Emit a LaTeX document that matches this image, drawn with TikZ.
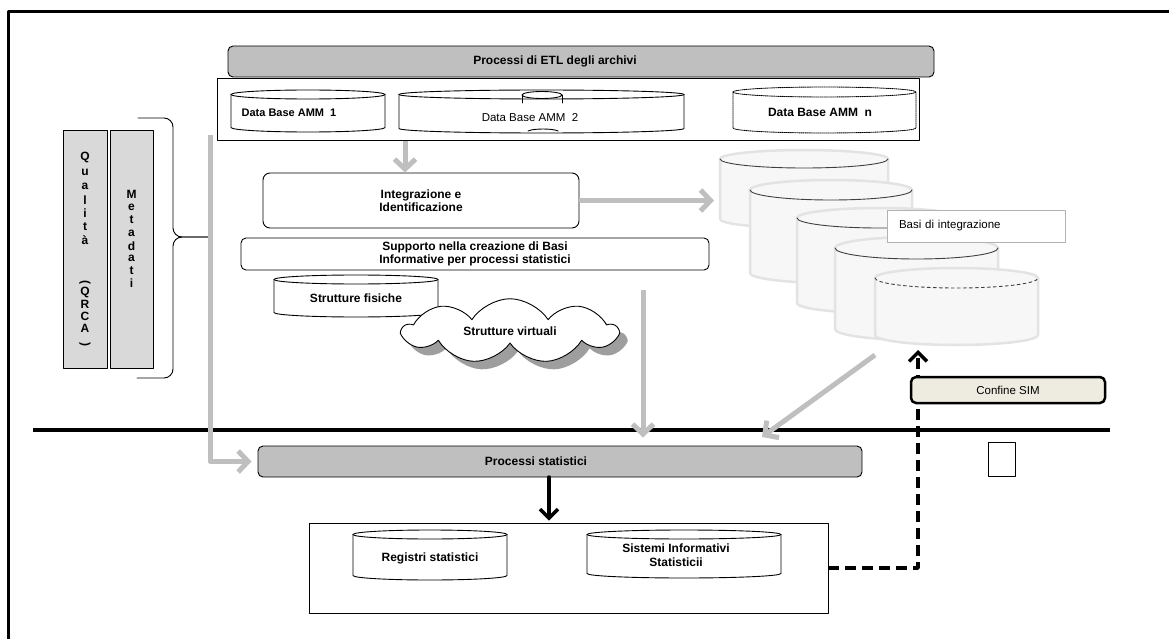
\documentclass[tikz,border=0pt]{standalone}
\usepackage{fontspec}
\setmainfont{Liberation Sans}
\usetikzlibrary{arrows.meta,shapes.symbols,shadows}
\definecolor{simbeige}{RGB}{238,236,225}
\begin{document}
\begin{tikzpicture}[x=1pt,y=-1pt,line join=round,line cap=round,line width=0.9pt,
  font=\fontsize{11.5}{13.5}\selectfont,
  bf/.style={font=\fontsize{12}{13.5}\selectfont\bfseries},
  rbox/.style={draw,rounded corners=7pt,fill=white,bf,align=center},
  gbox/.style={draw,rounded corners=5pt,fill=gray!50,bf},
  vbox/.style={draw,fill=gray!30,minimum height=238},
  letter/.style={bf,inner sep=0pt},
  garrow/.style={draw=gray!50,line width=5pt,line cap=butt,-{Straight Barb[length=10pt,width=21pt]}},
  karrow/.style={line width=3.5pt,-{Straight Barb[length=9pt,width=18pt]}},
  dasharr/.style={line width=3.5pt,line cap=butt,dash pattern=on 11pt off 6pt,-{Straight Barb[length=9pt,width=18pt]}}]
\def\dbcyl#1#2#3#4#5#6#7{%
  \path[#1] (#3,#4+#7) -- (#3,#6-#7) arc[start angle=180,end angle=0,x radius={(#5-#3)/2},y radius=#7]
    -- (#5,#4+#7) arc[start angle=0,end angle=-180,x radius={(#5-#3)/2},y radius=#7] -- cycle;
  \path[#2] (#3,#4+#7) arc[start angle=180,end angle=0,x radius={(#5-#3)/2},y radius=#7];}
\useasboundingbox (0,0) rectangle (1169,639);
\draw[line width=3pt,line cap=butt] (8,639) -- (8,12) -- (1169,12);

\node[gbox,minimum width=706,minimum height=31] (etl) at (581,61.5) {\hspace*{-52pt}Processi di ETL degli archivi};
\node[draw,fill=white,minimum width=702,minimum height=62] (dbrow) at (568,109) {};
\dbcyl{draw,fill=white}{draw}{231}{90}{385}{132}{4.5}
\node[font=\fontsize{11}{12}\selectfont\bfseries] (amm1) at (289,113) {Data Base AMM\ \ 1};
\dbcyl{draw,fill=white}{draw}{399}{90}{684}{133}{4.5}
\draw (542,95) ellipse[x radius=20,y radius=3.5];
\draw (522,95) -- (522,103) (562,95) -- (562,103);
\draw (528,131) arc[start angle=200,end angle=340,x radius=16,y radius=3];
\node[font=\fontsize{11.5}{12}\selectfont] (amm2) at (530,118) {Data Base AMM\ \ 2};
\dbcyl{draw,densely dotted,fill=white}{draw,densely dotted}{733}{87}{916}{133}{5}
\node[bf] (ammn) at (820,112) {Data Base AMM\ \ n};

\node[rbox,minimum width=316,minimum height=55] (integ) at (421,200.5) {Integrazione e\\Identificazione};
\node[rbox,rounded corners=5pt,minimum width=468,minimum height=32,inner sep=1pt] (supp) at (475,254) {Supporto nella creazione di Basi\\Informative per processi statistici};
\dbcyl{draw,fill=white}{draw}{274}{275}{438}{317}{4.5}
\node[bf] (fis) at (356,298) {Strutture fisiche};
\node[cloud,draw,fill=white,cloud puffs=9,cloud puff arc=115,aspect=3.5,minimum width=214,minimum height=62,bf,
  drop shadow={shadow xshift=8pt,shadow yshift=-8pt,fill=gray!85,opacity=0.9}] (virt) at (510,331) {Strutture virtuali};

\foreach \l/\t/\r/\b/\e in {720/150/888/228/9,750/180/912/283/10,797/208/962/313/10,835/237/998/340/11}
  \dbcyl{fill=gray!6,draw=gray!22,line width=2.5pt}{draw=black!75,line width=0.9pt}{\l}{\t}{\r}{\b}{\e};
\dbcyl{fill=gray!6,draw=gray!22,line width=2.5pt}{draw=black!75,line width=0.9pt,dashed}{875}{268}{1038}{345}{10}
\node[draw=gray!60,fill=white,minimum width=178,minimum height=32,text width=154,inner xsep=12pt,align=left] (basi) at (976,226) {Basi di integrazione};

\node[vbox,minimum width=44] (qual) at (85,249) {};
\node[vbox,minimum width=43] (meta) at (131.5,249) {};
\foreach \c/\y [count=\i] in {Q/157,u/172,a/186,l/200,i/213,t/227,à/240,Q/292,R/304,C/316,A/328}
  \node[letter] (q\i) at (85,\y) {\c};
\node[letter,rotate=-90] (qo) at (85,282) {(};
\node[letter,rotate=-90] (qc) at (85,344) {)};
\foreach \c/\y [count=\i] in {M/194,e/207,t/220,a/233,d/246,a/258,t/271,i/283}
  \node[letter] (m\i) at (131.5,\y) {\c};
\draw[rounded corners=9pt] (138,118) -- (173,118) -- (173,237) -- (208,237);
\draw[rounded corners=9pt] (208,237) -- (173,237) -- (173,378) -- (137,378);

\draw[line width=4pt,line cap=butt] (33,430) -- (1110,430);

\node[gbox,minimum width=604,minimum height=31] (proc) at (560,461.5) {\hspace*{-48pt}Processi statistici};
\node[draw,fill=white,minimum width=519,minimum height=90] (stat) at (568.5,568) {};
\dbcyl{draw,fill=white}{draw}{353}{530}{507}{580}{4.5}
\node[bf] (reg) at (430,558) {Registri statistici};
\dbcyl{draw,fill=white}{draw}{587}{530}{781}{578}{4.5}
\node[bf,align=center] (sis) at (676,555) {Sistemi Informativi\\Statisticii};

\coordinate (a1) at (210,135);
\coordinate (a2) at (405,141);
\coordinate (a3) at (714,200.5);
\coordinate (a4) at (643,290);
\coordinate (a5) at (875,355);
\coordinate (a5e) at (762,437);
\coordinate (k1) at (549,477);
\coordinate (d1) at (918,350);
\draw[garrow,shorten >=6pt] (a1) |- (proc.west);
\draw[garrow] (a2) -- (a2 |- integ.north);
\draw[garrow] (integ.east) -- (a3);
\draw[garrow,shorten >=8pt] (a4) -- (a4 |- proc.north);
\draw[garrow] (a5) -- (a5e);
\draw[karrow,shorten >=2pt] (k1) -- (k1 |- stat.north);
\draw[dasharr] (stat.east) -| (d1);

\node[draw,line width=2.5pt,rounded corners=5pt,fill=simbeige,minimum width=194,minimum height=26] (sim) at (1008,390) {Confine SIM};
\node[draw,minimum width=27,minimum height=34] (box) at (1001.5,459) {};
\end{tikzpicture}
\end{document}
